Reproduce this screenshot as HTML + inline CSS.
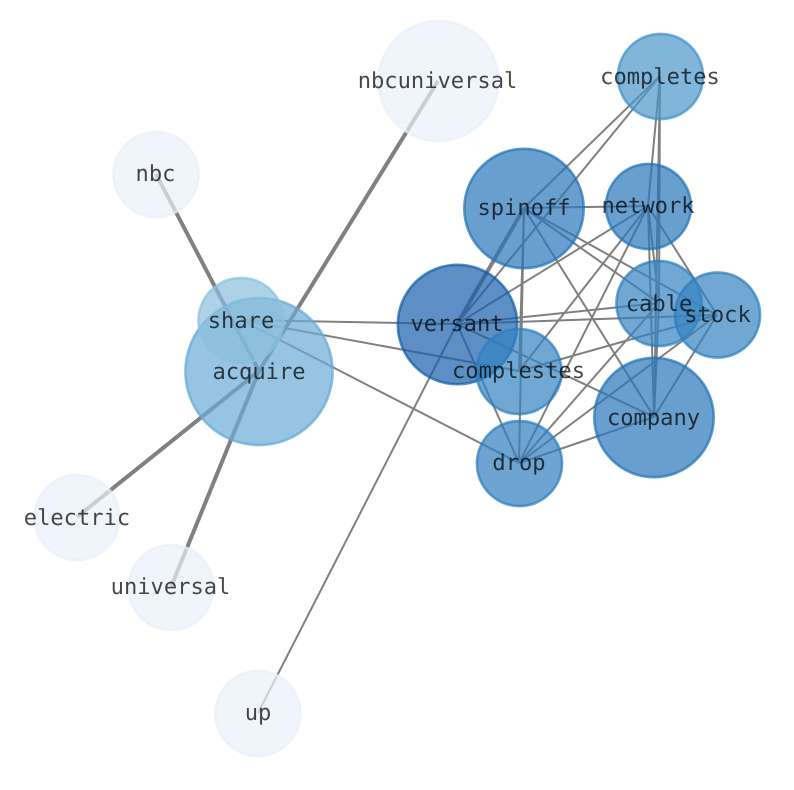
<!DOCTYPE html>
<html><head><meta charset="utf-8"><style>
html,body{margin:0;padding:0;background:#fff;width:794px;height:790px;overflow:hidden}
svg{display:block}
text{font-family:"DejaVu Sans Mono","Liberation Mono",monospace;font-size:22.1px;text-anchor:middle;fill:#000;fill-opacity:.72;text-rendering:geometricPrecision}
.e line{stroke:#808080;stroke-width:2}
.e line.t{stroke-width:4}
circle{stroke-width:2.6;fill-opacity:.7;stroke-opacity:.7}
</style></head><body>
<svg width="794" height="790" viewBox="0 0 794 790" xmlns="http://www.w3.org/2000/svg">
<g class="e">
<line class="t" x1="259" y1="371" x2="156" y2="174"/>
<line class="t" x1="259" y1="371" x2="438" y2="81"/>
<line class="t" x1="259" y1="371" x2="77" y2="517"/>
<line class="t" x1="259" y1="371" x2="171" y2="587"/>
<line x1="241" y1="320" x2="457" y2="324"/>
<line x1="241" y1="320" x2="519" y2="371"/>
<line x1="241" y1="320" x2="519" y2="463"/>
<line x1="457" y1="324" x2="258" y2="713"/>
<line class="t" x1="457" y1="324" x2="524" y2="208"/>
<line x1="457" y1="324" x2="660" y2="76"/>
<line x1="457" y1="324" x2="648" y2="206"/>
<line x1="457" y1="324" x2="659" y2="303"/>
<line x1="457" y1="324" x2="717" y2="315"/>
<line x1="457" y1="324" x2="654" y2="417"/>
<line x1="457" y1="324" x2="519" y2="463"/>
<line x1="524" y1="208" x2="660" y2="76"/>
<line x1="524" y1="208" x2="648" y2="206"/>
<line x1="524" y1="208" x2="659" y2="303"/>
<line x1="524" y1="208" x2="717" y2="315"/>
<line x1="524" y1="208" x2="654" y2="417"/>
<line x1="524" y1="208" x2="519" y2="371"/>
<line x1="524" y1="208" x2="519" y2="463"/>
<line x1="660" y1="76" x2="648" y2="206"/>
<line x1="660" y1="76" x2="654" y2="417"/>
<line x1="660" y1="76" x2="659" y2="303"/>
<line x1="648" y1="206" x2="659" y2="303"/>
<line x1="648" y1="206" x2="717" y2="315"/>
<line x1="648" y1="206" x2="654" y2="417"/>
<line x1="648" y1="206" x2="519" y2="371"/>
<line x1="648" y1="206" x2="519" y2="463"/>
<line x1="659" y1="303" x2="654" y2="417"/>
<line x1="659" y1="303" x2="519" y2="463"/>
<line x1="717" y1="315" x2="519" y2="371"/>
<line x1="717" y1="315" x2="519" y2="463"/>
<line x1="717" y1="315" x2="654" y2="417"/>
<line x1="654" y1="417" x2="519" y2="463"/>
</g>
<circle cx="259" cy="371.500" r="73.600" fill="#69abd6" stroke="#62aad6"/>
<circle cx="241" cy="320.500" r="42.600" fill="#8abfdd" stroke="#8cc0de"/>
<circle cx="156" cy="174.500" r="42.600" fill="#e9f1fb" stroke="#e8f0fa"/>
<circle cx="438.500" cy="81" r="60" fill="#e9f1fb" stroke="#e8f0fa"/>
<circle cx="77" cy="517.500" r="42.600" fill="#e9f1fb" stroke="#e8f0fa"/>
<circle cx="171" cy="587.500" r="42.600" fill="#e9f1fb" stroke="#e8f0fa"/>
<circle cx="258" cy="713.500" r="42.600" fill="#e9f1fb" stroke="#e8f0fa"/>
<circle cx="660.500" cy="76.500" r="42.600" fill="#4c97ca" stroke="#3f90c8"/>
<circle cx="524" cy="208.500" r="59.700" fill="#2a76b9" stroke="#1f72b6"/>
<circle cx="648.500" cy="206.500" r="42.600" fill="#2a76b9" stroke="#1f72b6"/>
<circle cx="457.500" cy="324.500" r="59.700" fill="#1a5fab" stroke="#105ba8"/>
<circle cx="659" cy="303.500" r="42.600" fill="#3383c0" stroke="#2b7dbd"/>
<circle cx="717.500" cy="315" r="42.600" fill="#3383c0" stroke="#2b7dbd"/>
<circle cx="519" cy="371.500" r="42.600" fill="#3383c0" stroke="#2b7dbd"/>
<circle cx="654" cy="417.500" r="59.700" fill="#2a76b9" stroke="#1f72b6"/>
<circle cx="519.500" cy="463.500" r="42.600" fill="#2f7dbd" stroke="#2b7dbd"/>
<text x="259" y="379">acquire</text>
<text x="241" y="328">share</text>
<text x="155.500" y="181">nbc</text>
<text x="437.500" y="88">nbcuniversal</text>
<text x="77" y="525">electric</text>
<text x="170.500" y="594">universal</text>
<text x="258" y="720">up</text>
<text x="660" y="84">completes</text>
<text x="524" y="215">spinoff</text>
<text x="648" y="213">network</text>
<text x="457" y="331">versant</text>
<text x="659" y="311">cable</text>
<text x="717.500" y="322">stock</text>
<text x="518.500" y="378">complestes</text>
<text x="653.500" y="425">company</text>
<text x="519" y="470">drop</text>
</svg>
</body></html>
